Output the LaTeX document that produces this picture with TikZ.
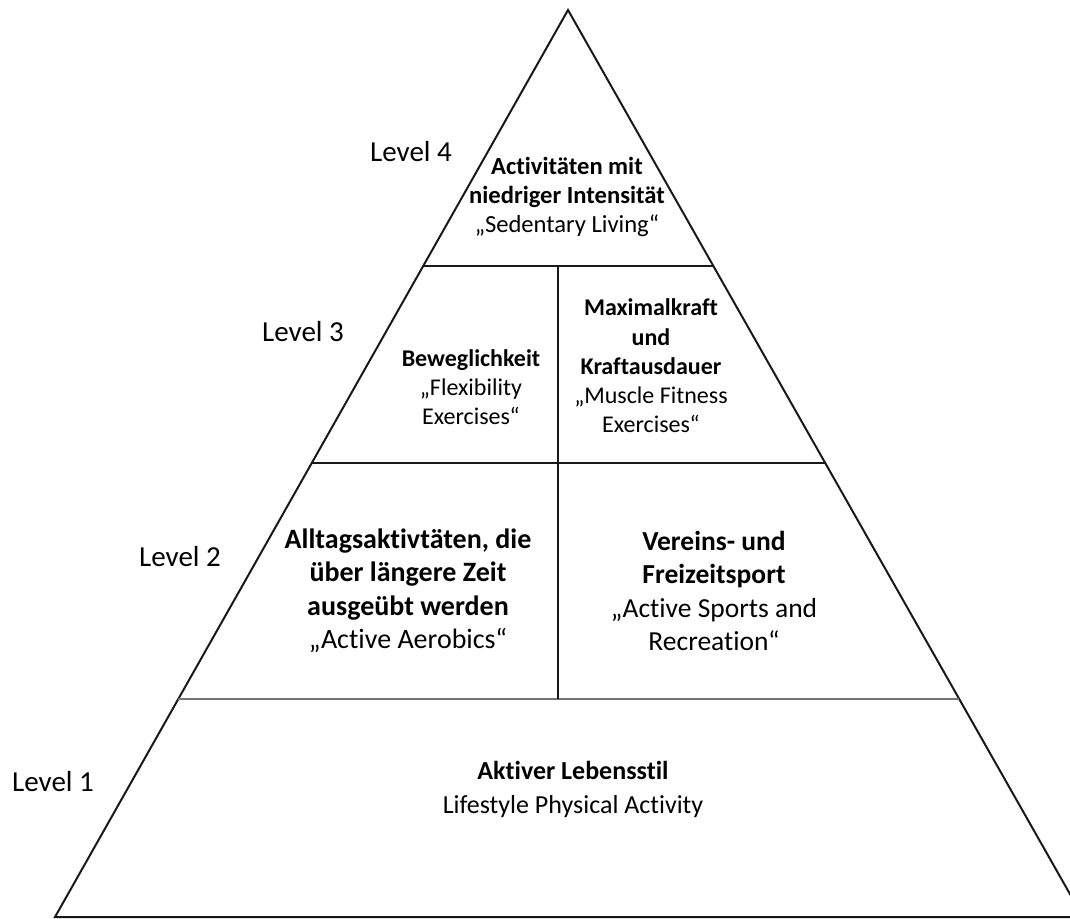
\documentclass[tikz,border=0pt]{standalone}
\usepackage{fontspec}
\setmainfont{Carlito}[Ligatures=CommonOff]
\usetikzlibrary{calc}
\begin{document}
\begin{tikzpicture}[x=1pt,y=-1pt,
  edge/.style={line width=2pt, draw=black!90},
  divider/.style={line width=1.6pt, draw=black!90},
  graydiv/.style={line width=2pt, draw=black!55},
  lvl/.style={anchor=center, inner sep=0pt, font=\fontsize{29}{35}\selectfont},
  txtS/.style={anchor=center, inner sep=0pt, align=center, font=\fontsize{24}{29.3}\selectfont},
  txtT/.style={anchor=center, inner sep=0pt, align=center, font=\fontsize{24.6}{29}\selectfont},
  txtL/.style={anchor=center, inner sep=0pt, align=center, font=\fontsize{28}{33.5}\selectfont},
  txtR/.style={anchor=center, inner sep=0pt, align=center, font=\fontsize{27.5}{33.5}\selectfont},
  txtB/.style={anchor=center, inner sep=0pt, align=center, font=\fontsize{26}{34}\selectfont},
]
\useasboundingbox (0,0) rectangle (1070,918);
\clip (0,0) rectangle (1070,918);
% pyramid outline
\coordinate (apex) at (568,10);
\coordinate (bl) at (55,917);
\coordinate (br) at (1083,917);
\draw[edge, line join=miter] (bl) -- (apex) -- (br) -- cycle;
% level boundaries
\coordinate (l34) at ($(apex)!0.2823!(bl)$);
\coordinate (r34) at ($(apex)!0.2823!(br)$);
\coordinate (l23) at ($(apex)!0.4995!(bl)$);
\coordinate (r23) at ($(apex)!0.4995!(br)$);
\coordinate (l12) at ($(apex)!0.7597!(bl)$);
\coordinate (r12) at ($(apex)!0.7597!(br)$);
\draw[divider] (l34) -- (r34);
\draw[divider] (l23) -- (r23);
\draw[graydiv] (l12) -- (r12);
% vertical dividers
\coordinate (v3t) at (558,266);
\coordinate (v3b) at (558,463);
\coordinate (v2b) at (558,699);
\draw[divider] (v3t) -- (v3b);
\draw[divider] (v3b) -- (v2b);
% level labels
\node[lvl] (lv4) at (411,152) {Level 4};
\node[lvl] (lv3) at (303,332) {Level 3};
\node[lvl] (lv2) at (180,557) {Level 2};
\node[lvl] (lv1) at (53,782) {Level 1};
% texts
\node[txtT] (t4) at (567,197) {\textbf{Activitäten mit}\\\textbf{niedriger Intensität}\\„Sedentary Living“};
\node[txtS] (t3l) at (471,387) {\textbf{Beweglichkeit}\\„Flexibility\\Exercises“};
\node[txtS] (t3r) at (651,366) {\textbf{Maximalkraft}\\\textbf{und}\\\textbf{Kraftausdauer}\\„Muscle Fitness\\Exercises“};
\node[txtL] (t2l) at (408,591) {\textbf{Alltagsaktivtäten, die}\\\textbf{über längere Zeit}\\\textbf{ausgeübt werden}\\„Active Aerobics“};
\node[txtR] (t2r) at (714,591) {\textbf{Vereins- und}\\\textbf{Freizeitsport}\\„Active Sports and\\Recreation“};
\node[txtB] (t1) at (573,789) {\textbf{Aktiver Lebensstil}\\Lifestyle Physical Activity};
\end{tikzpicture}
\end{document}
